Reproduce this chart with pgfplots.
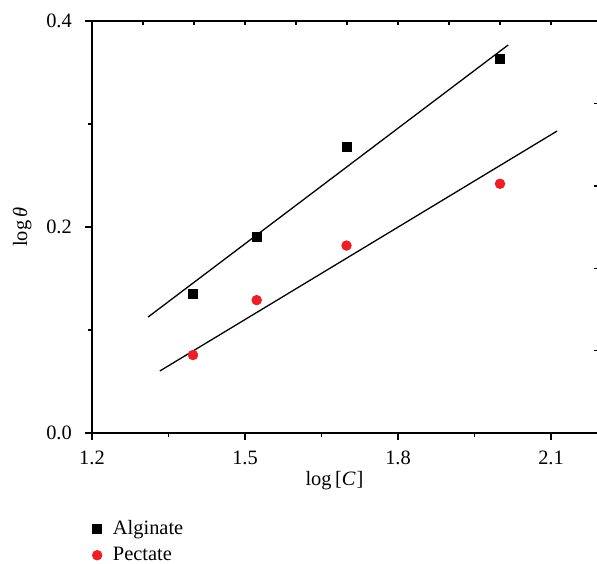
\documentclass[border=0pt]{standalone}
\usepackage{fontspec}
\setmainfont{Liberation Serif}
\usepackage{pgfplots}
\pgfplotsset{compat=1.18}
\definecolor{pred}{RGB}{237,30,36}
\begin{document}
\begin{tikzpicture}[x=1pt,y=1pt]
\fontsize{10.2}{12}\selectfont
\begin{axis}[at={(0,0)}, anchor=south west, scale only axis,
  width=254.5pt, height=206pt,
  xmin=1.2, xmax=2.198, ymin=0, ymax=0.4,
  axis x line*=bottom, axis y line*=left,
  axis line style={line width=0.9pt},
  xtick={1.2,1.5,1.8,2.1}, minor xtick={1.35,1.65,1.95},
  ytick={0,0.2,0.4}, minor ytick={0.1,0.3},
  tick align=outside, major tick length=3.5pt, minor tick length=2.2pt,
  every tick/.style={black, line width=0.7pt},
  /pgf/number format/fixed, /pgf/number format/fixed zerofill,
  /pgf/number format/precision=1, /pgf/number format/assume math mode=true,
  ticklabel style={font=\fontsize{10.2}{12}\selectfont},
  yticklabel style={xshift=-3pt},
  xticklabel style={yshift=-2pt},
  xlabel={log\,[\textit{C}\kern0.5pt]},
  xlabel style={at={(axis description cs:0.5,0)}, anchor=base, xshift=-6pt, yshift=-26pt, font=\fontsize{10.2}{12}\selectfont},
  ylabel={log\,\textit{θ}},
  ylabel style={at={(axis description cs:-0.137,0.5)}, anchor=center, font=\fontsize{10.2}{12}\selectfont},
  legend style={at={(axis description cs:0,0)}, anchor=north west, xshift=-3pt, yshift=-39.5pt,
    draw=none, fill=none, font=\fontsize{10.2}{12}\selectfont, row sep=0.7pt,
    /tikz/every even column/.append style={column sep=0pt}},
  legend cell align=left,
  legend image code/.code={\draw[#1] plot coordinates {(0pt,0pt)};},
]
\addplot[black, line width=0.65pt, no marks, forget plot] coordinates {(1.31,0.1126) (2.016,0.3767)};
\addplot[black, line width=0.65pt, no marks, forget plot] coordinates {(1.333,0.0602) (2.112,0.2932)};
\addplot[only marks, mark=square*, mark size=2.25pt, black] coordinates {
(1.398,0.135) (1.5229,0.190) (1.699,0.278) (2.0,0.363)};
\addlegendentry{\hspace{3.5pt}Alginate}
\addplot[only marks, mark=*, mark size=2.4pt, draw=pred, fill=pred] coordinates {
(1.398,0.0757) (1.5229,0.129) (1.699,0.182) (2.0,0.242)};
\addlegendentry{\hspace{3.5pt}Pectate}
\end{axis}
\begin{axis}[at={(0,0)}, anchor=south west, scale only axis,
  width=254.5pt, height=206pt,
  xmin=1.2, xmax=2.198, ymin=0, ymax=0.4,
  axis x line*=top, axis y line=none,
  axis line style={line width=0.9pt},
  xtick={1.3,1.4,1.5,1.6,1.7,1.8,1.9,2.0,2.1},
  ytick=\empty, xticklabels={},
  tick align=inside, major tick length=2.2pt,
  every tick/.style={black, line width=0.7pt},
]
\end{axis}
\begin{axis}[at={(0,0)}, anchor=south west, scale only axis,
  width=254.5pt, height=206pt,
  xmin=1.2, xmax=2.198, ymin=0, ymax=0.4,
  axis x line=none, axis y line*=right,
  axis line style={line width=0.9pt},
  xtick=\empty,
  ytick={0.08,0.16,0.24,0.32}, yticklabels={},
  tick align=inside, major tick length=3.5pt,
  every tick/.style={black, line width=0.7pt},
]
\end{axis}
\pgfresetboundingbox
\useasboundingbox (-46,-65) rectangle (252.5,216.5);
\end{tikzpicture}
\end{document}
